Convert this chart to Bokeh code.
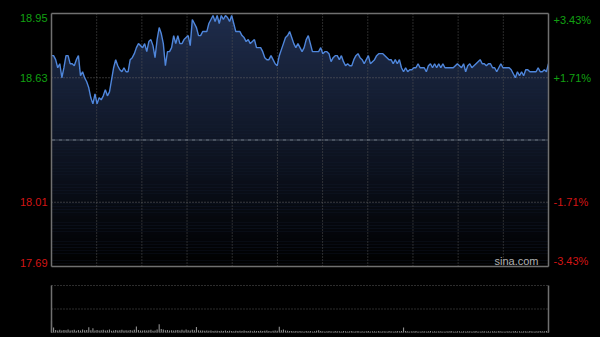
from bokeh.plotting import figure
from bokeh.models import Range1d, ColumnDataSource
from bokeh.core.properties import value
from bokeh.layouts import column
from bokeh.embed import file_html
from bokeh.resources import INLINE

# ---------------- data ----------------
prev_close = 18.32
price_ticks = [18.95, 18.63, 18.01, 17.69]
price_labels = ["18.95", "18.63", "18.01", "17.69"]
pct_labels = ["+3.43%", "+1.71%", "-1.71%", "-3.43%"]

prices = [
    18.74, 18.74, 18.72, 18.68, 18.70, 18.63, 18.68, 18.74, 18.74, 18.70,
    18.70, 18.69, 18.72, 18.74, 18.64, 18.66, 18.63, 18.61, 18.58, 18.53,
    18.50, 18.55, 18.50, 18.53, 18.52, 18.54, 18.57, 18.54, 18.56, 18.62,
    18.68, 18.72, 18.69, 18.67, 18.66, 18.68, 18.66, 18.66, 18.72, 18.73,
    18.75, 18.78, 18.80, 18.79, 18.78, 18.80, 18.76, 18.81, 18.82, 18.79,
    18.73, 18.82, 18.88, 18.85, 18.80, 18.69, 18.76, 18.76, 18.78, 18.84,
    18.80, 18.84, 18.80, 18.80, 18.82, 18.83, 18.84, 18.79, 18.92, 18.90,
    18.88, 18.84, 18.84, 18.86, 18.86, 18.86, 18.90, 18.92, 18.94, 18.91,
    18.94, 18.90, 18.94, 18.92, 18.94, 18.93, 18.91, 18.94, 18.90, 18.86,
    18.86, 18.86, 18.84, 18.83, 18.81, 18.82, 18.80, 18.81, 18.82, 18.78,
    18.78, 18.78, 18.76, 18.73, 18.72, 18.72, 18.74, 18.72, 18.70, 18.69,
    18.74, 18.77, 18.80, 18.83, 18.84, 18.86, 18.83, 18.80, 18.78, 18.80,
    18.78, 18.76, 18.78, 18.82, 18.84, 18.80, 18.76, 18.76, 18.76, 18.76,
    18.78, 18.75, 18.76, 18.76, 18.75, 18.71, 18.73, 18.74, 18.74, 18.72,
    18.74, 18.71, 18.69, 18.70, 18.69, 18.69, 18.72, 18.74, 18.75, 18.73,
    18.72, 18.70, 18.72, 18.74, 18.70, 18.71, 18.72, 18.74, 18.75, 18.75,
    18.75, 18.74, 18.73, 18.72, 18.72, 18.70, 18.72, 18.70, 18.72, 18.68,
    18.66, 18.68, 18.66, 18.67, 18.67, 18.68, 18.68, 18.70, 18.68, 18.68,
    18.68, 18.66, 18.69, 18.70, 18.68, 18.70, 18.68, 18.70, 18.68, 18.70,
    18.68, 18.68, 18.68, 18.68, 18.68, 18.69, 18.70, 18.69, 18.68, 18.70,
    18.66, 18.69, 18.70, 18.68, 18.69, 18.70, 18.71, 18.72, 18.70, 18.70,
    18.69, 18.70, 18.70, 18.68, 18.68, 18.66, 18.68, 18.70, 18.68, 18.68,
    18.68, 18.68, 18.67, 18.65, 18.63, 18.66, 18.64, 18.66, 18.64, 18.67,
    18.67, 18.66, 18.66, 18.66, 18.66, 18.68, 18.66, 18.66, 18.67, 18.66,
    18.70,
]

volumes = [
    10.2, 4.3, 2.1, 1.8, 2.4, 1.6, 2.2, 1.9, 2.5, 1.7, 2.0, 2.3, 1.5, 2.1, 1.8, 2.6, 1.9, 2.2, 4.5, 2.0,
    3.6, 1.8, 2.2, 1.6, 1.9, 2.4, 1.7, 2.0, 2.6, 1.5, 1.8, 2.1, 1.6, 1.9, 2.3, 1.7, 2.0, 1.8, 2.2, 1.6,
    2.4, 5.1, 2.2, 1.8, 1.6, 2.0, 1.7, 1.9, 2.3, 1.5, 1.8, 2.6, 7.0, 3.0, 2.6, 1.9, 2.2, 1.8, 2.0, 1.7,
    1.9, 2.1, 1.6, 2.3, 1.8, 2.5, 2.0, 1.7, 2.4, 2.0, 4.6, 1.9, 1.6, 1.8, 1.5, 1.7, 1.4, 1.6, 1.3, 1.5,
    1.4, 1.2, 1.5, 1.3, 1.6, 1.2, 1.4, 1.3, 1.1, 1.5, 1.2, 1.4, 1.3, 1.6, 1.2, 1.3, 1.5, 1.1, 1.4, 1.2,
    1.3, 1.5, 1.2, 1.4, 1.6, 1.3, 1.1, 1.4, 1.7, 1.5, 5.0, 1.9, 2.5, 1.6, 1.4, 1.2, 1.3, 1.1, 1.2, 1.0,
    1.2, 1.1, 0.9, 1.3, 1.0, 1.2, 0.9, 1.1, 1.4, 2.0, 1.2, 1.0, 0.9, 1.1, 1.3, 1.0, 0.9, 1.2, 1.0, 1.1,
    0.9, 1.2, 1.0, 0.8, 1.1, 1.3, 0.9, 1.0, 1.2, 0.8, 1.1, 0.9, 1.0, 1.2, 0.9, 1.1, 1.0, 0.8, 1.2, 0.9,
    1.0, 1.1, 0.9, 1.2, 1.0, 0.8, 1.1, 1.3, 1.0, 1.2, 4.2, 1.3, 1.0, 0.9, 1.1, 1.0, 1.2, 0.9, 0.8, 1.0,
    1.1, 0.9, 1.0, 1.2, 0.8, 1.0, 0.9, 1.1, 1.0, 0.8, 0.9, 1.1, 1.0, 1.2, 0.9, 0.8, 1.0, 1.1, 0.9, 1.0,
    0.8, 1.0, 1.1, 0.9, 1.0, 1.2, 0.9, 0.8, 1.0, 1.1, 0.9, 1.0, 0.8, 1.1, 1.0, 0.9, 1.2, 1.0, 0.8, 0.9,
    1.0, 1.1, 0.9, 1.0, 1.2, 0.9, 1.0, 0.8, 1.1, 1.0, 0.9, 1.2, 1.0, 0.9, 1.1, 1.0, 1.3, 1.1, 1.0, 1.2,
    1.8,
]
vol_max = 40.0

minutes = list(range(len(prices)))
n_min = len(prices) - 1
y_lo, y_hi = min(price_ticks), max(price_ticks)

FONT = "Liberation Sans"
GREEN = "#12a012"
RED = "#d41515"
BORDER = "#707070"

# ---- layout constants (pixels on a 600 x 337 canvas) ----
W = 600
LEFT, RIGHT = 51, 52              # chart box from x=51 to x=548
PH, P_TOP, P_BOT = 270, 13, 4     # price box from y=13 to y=266
VH, V_TOP, V_BOT = 67, 15, 5      # volume box from y=285 to y=332

ppm = (W - LEFT - RIGHT) / n_min
x_start, x_end = -LEFT / ppm, n_min + RIGHT / ppm

pp = (PH - P_TOP - P_BOT) / (y_hi - y_lo)
py_start, py_end = y_lo - P_BOT / pp, y_hi + P_TOP / pp

vp = (VH - V_TOP - V_BOT) / vol_max
vy_start, vy_end = -V_BOT / vp, vol_max + V_TOP / vp


def make_fig(height, y0, y1):
    f = figure(width=W, height=height, x_range=Range1d(x_start, x_end),
               y_range=Range1d(y0, y1), x_axis_type=None, y_axis_type=None,
               output_backend="svg", toolbar_location=None,
               min_border_left=0, min_border_right=0, min_border_top=0, min_border_bottom=0,
               background_fill_color="black", border_fill_color="black",
               outline_line_color=None)
    f.grid.visible = False
    return f


# ---------------- price panel ----------------
p = make_fig(PH, py_start, py_end)

src = ColumnDataSource(dict(t=minutes, price=prices))
p.varea(x="t", y1=y_lo, y2="price", source=src, fill_color="#1f2d4c")

# vertical darkening gradient (black overlay, alpha growing downward)
nb = 80
span = y_hi - y_lo
bands = dict(bottom=[], top=[], alpha=[])
for i in range(nb):
    bands["top"].append(y_hi - span * i / nb)
    bands["bottom"].append(y_hi - span * (i + 1) / nb)
    bands["alpha"].append((i + 0.5) / nb)
bsrc = ColumnDataSource(bands)
p.quad(left=0, right=n_min, bottom="bottom", top="top", fill_color="black",
       fill_alpha="alpha", line_color=None, source=bsrc)

# grid
gx = [n_min * i / 11 for i in range(1, 11)]
p.segment(x0=gx, y0=[y_lo] * len(gx), x1=gx, y1=[y_hi] * len(gx),
          line_color="#555555", line_dash="1 2", line_width=1)
hy = [price_ticks[1], price_ticks[2]]
p.segment(x0=[0] * 2, y0=hy, x1=[n_min] * 2, y1=hy,
          line_color="#6a6a6a", line_dash="1 2", line_width=1)
p.segment(x0=[0], y0=[prev_close], x1=[n_min], y1=[prev_close],
          line_color="#808a98", line_dash="4 1 1 1", line_width=1)

p.line(x="t", y="price", source=src, line_color="#4f86db", line_width=1.4)

# box border
p.segment(x0=[0, n_min, 0, 0], y0=[y_lo, y_lo, y_lo, y_hi],
          x1=[0, n_min, n_min, n_min], y1=[y_hi, y_hi, y_lo, y_hi],
          line_color=BORDER, line_width=1.5)

# tick labels
for tk, lab, pct in zip(price_ticks, price_labels, pct_labels):
    col = GREEN if tk > prev_close else RED
    base = "top" if tk == y_hi else ("bottom" if tk == y_lo else "middle")
    p.text(x=[0], y=[tk], text=[lab], x_offset=-4, text_align="right",
           text_baseline=base, text_color=col, text_font_size="11px",
           text_font=value(FONT))
    p.text(x=[n_min], y=[tk], text=[pct], x_offset=5, text_align="left",
           text_baseline=base, text_color=col, text_font_size="11px",
           text_font=value(FONT))

p.text(x=[n_min], y=[y_lo], text=["sina.com"], x_offset=-10, text_align="right",
       text_baseline="bottom", text_color="#b0b0b0", text_font_size="11px",
       text_font=value(FONT))

# ---------------- volume panel ----------------
v = make_fig(VH, vy_start, vy_end)
vsrc = ColumnDataSource(dict(t=minutes, vol=volumes))
v.vbar(x="t", top="vol", width=0.55, bottom=0, source=vsrc, fill_color="#8a8a8a",
       line_color=None)
v.segment(x0=[0] * 3, y0=[0, vol_max / 2, vol_max], x1=[n_min] * 3,
          y1=[0, vol_max / 2, vol_max], line_color="#5a5a5a", line_dash="1 2", line_width=1)
v.segment(x0=[0, n_min], y0=[0, 0], x1=[0, n_min], y1=[vol_max, vol_max],
          line_color=BORDER, line_width=1.5)

layout = column(p, v, spacing=0, styles={"background-color": "black"})
open("out.html", "w").write(file_html(layout, INLINE))
